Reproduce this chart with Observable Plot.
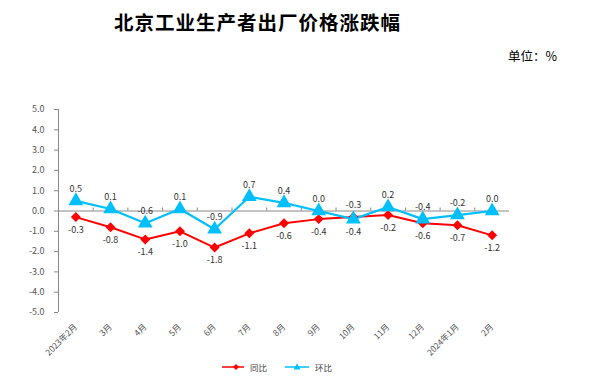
<!DOCTYPE html>
<html>
<head>
<meta charset="utf-8">
<script src="https://cdn.jsdelivr.net/npm/d3@7"></script>
<script src="https://cdn.jsdelivr.net/npm/@observablehq/plot@0.6"></script>
<style>
  body { margin: 0; background: #fff; }
  #wrap { position: relative; width: 605px; height: 391px; overflow: hidden; font-family: "Noto Sans CJK SC", sans-serif; }
  #title { position: absolute; left: 0; top: 7px; width: 515px; text-align: center; font-size: 19.5px; font-weight: bold; color: #000; letter-spacing: 1px; }
  #unit { position: absolute; left: 508px; top: 46px; font-size: 12.5px; color: #000; }
  #legend { position: absolute; top: 361px; left: 222px; font-size: 8.5px; color: #444; display: flex; align-items: center; }
  #legend .item { display: flex; align-items: center; margin-right: 18px; }
  #legend svg { margin-right: 6px; }
  #chart { position: absolute; left: 0; top: 0; }
</style>
</head>
<body>
<div id="wrap">
  <div id="chart"></div>
  <div id="title">北京工业生产者出厂价格涨跌幅</div>
  <div id="unit">单位：%</div>
  <div id="legend">
    <div class="item"><svg width="22" height="10"><line x1="0" y1="5" x2="22" y2="5" stroke="#FF0000" stroke-width="1.5"/><path d="M14,2 L17,5 L14,8 L11,5Z" fill="#FF0000"/></svg>同比</div>
    <div class="item"><svg width="24" height="10"><line x1="0" y1="5" x2="24" y2="5" stroke="#00BFFF" stroke-width="1.5"/><path d="M12,1.5 L15.5,7.5 L8.5,7.5Z" fill="#00BFFF"/></svg>环比</div>
  </div>
</div>
<script>
const months = ["2023年2月","3月","4月","5月","6月","7月","8月","9月","10月","11月","12月","2024年1月","2月"];
const tongbi = [-0.3, -0.8, -1.4, -1.0, -1.8, -1.1, -0.6, -0.4, -0.3, -0.2, -0.6, -0.7, -1.2];
const huanbi = [0.5, 0.1, -0.6, 0.1, -0.9, 0.7, 0.4, 0.0, -0.4, 0.2, -0.4, -0.2, 0.0];
const yTicks = [-5, -4, -3, -2, -1, 0, 1, 2, 3, 4, 5];

const rows = [];
months.forEach((m, i) => {
  rows.push({i, series: "同比", v: tongbi[i], above: tongbi[i] > huanbi[i]});
  rows.push({i, series: "环比", v: huanbi[i], above: huanbi[i] >= tongbi[i]});
});
const tb = rows.filter(d => d.series === "同比");
const hb = rows.filter(d => d.series === "环比");
const between = d3.range(0.5, months.length - 1, 1);

const RED = "#FF0000", BLUE = "#00BFFF";

const chart = Plot.plot({
  width: 605,
  height: 391,
  marginTop: 109,
  marginBottom: 79,
  marginLeft: 58,
  marginRight: 96,
  style: {fontFamily: "'Noto Sans CJK SC', sans-serif", background: "transparent"},
  x: {type: "linear", domain: [-0.5, months.length - 0.5]},
  y: {domain: [-5, 5]},
  marks: [
    Plot.axisY({ticks: yTicks, tickFormat: d => d.toFixed(1), tickSize: 4, tickPadding: 10, stroke: "#888", fill: "#555", fontSize: 9, label: null}),
    Plot.axisX({ticks: d3.range(months.length), tickFormat: i => months[i], tickSize: 0, tickPadding: 13, tickRotate: -45, fill: "#555", fontSize: 8.5, label: null}),
    Plot.ruleX([-0.5], {y1: -5, y2: 5, stroke: "#888"}),
    Plot.ruleY([0], {stroke: "#888"}),
    Plot.ruleX(between, {y1: 0, y2: 0.15, stroke: "#888"}),
    Plot.line(tb, {x: "i", y: "v", stroke: RED, strokeWidth: 2}),
    Plot.line(hb, {x: "i", y: "v", stroke: BLUE, strokeWidth: 2.2}),
    Plot.dot(tb, {x: "i", y: "v", symbol: "diamond2", r: 4.5, fill: RED, stroke: "none"}),
    Plot.dot(hb, {x: "i", y: "v", symbol: "triangle", r: 5.5, fill: BLUE, stroke: "none"}),
    Plot.text(rows, {x: "i", y: "v", text: d => d.v.toFixed(1), fill: "#333", fontSize: 9,
      filter: d => d.above, dy: -12}),
    Plot.text(rows, {x: "i", y: "v", text: d => d.v.toFixed(1), fill: "#333", fontSize: 9,
      filter: d => !d.above, dy: 13})
  ]
});
document.getElementById("chart").appendChild(chart);
</script>
</body>
</html>
